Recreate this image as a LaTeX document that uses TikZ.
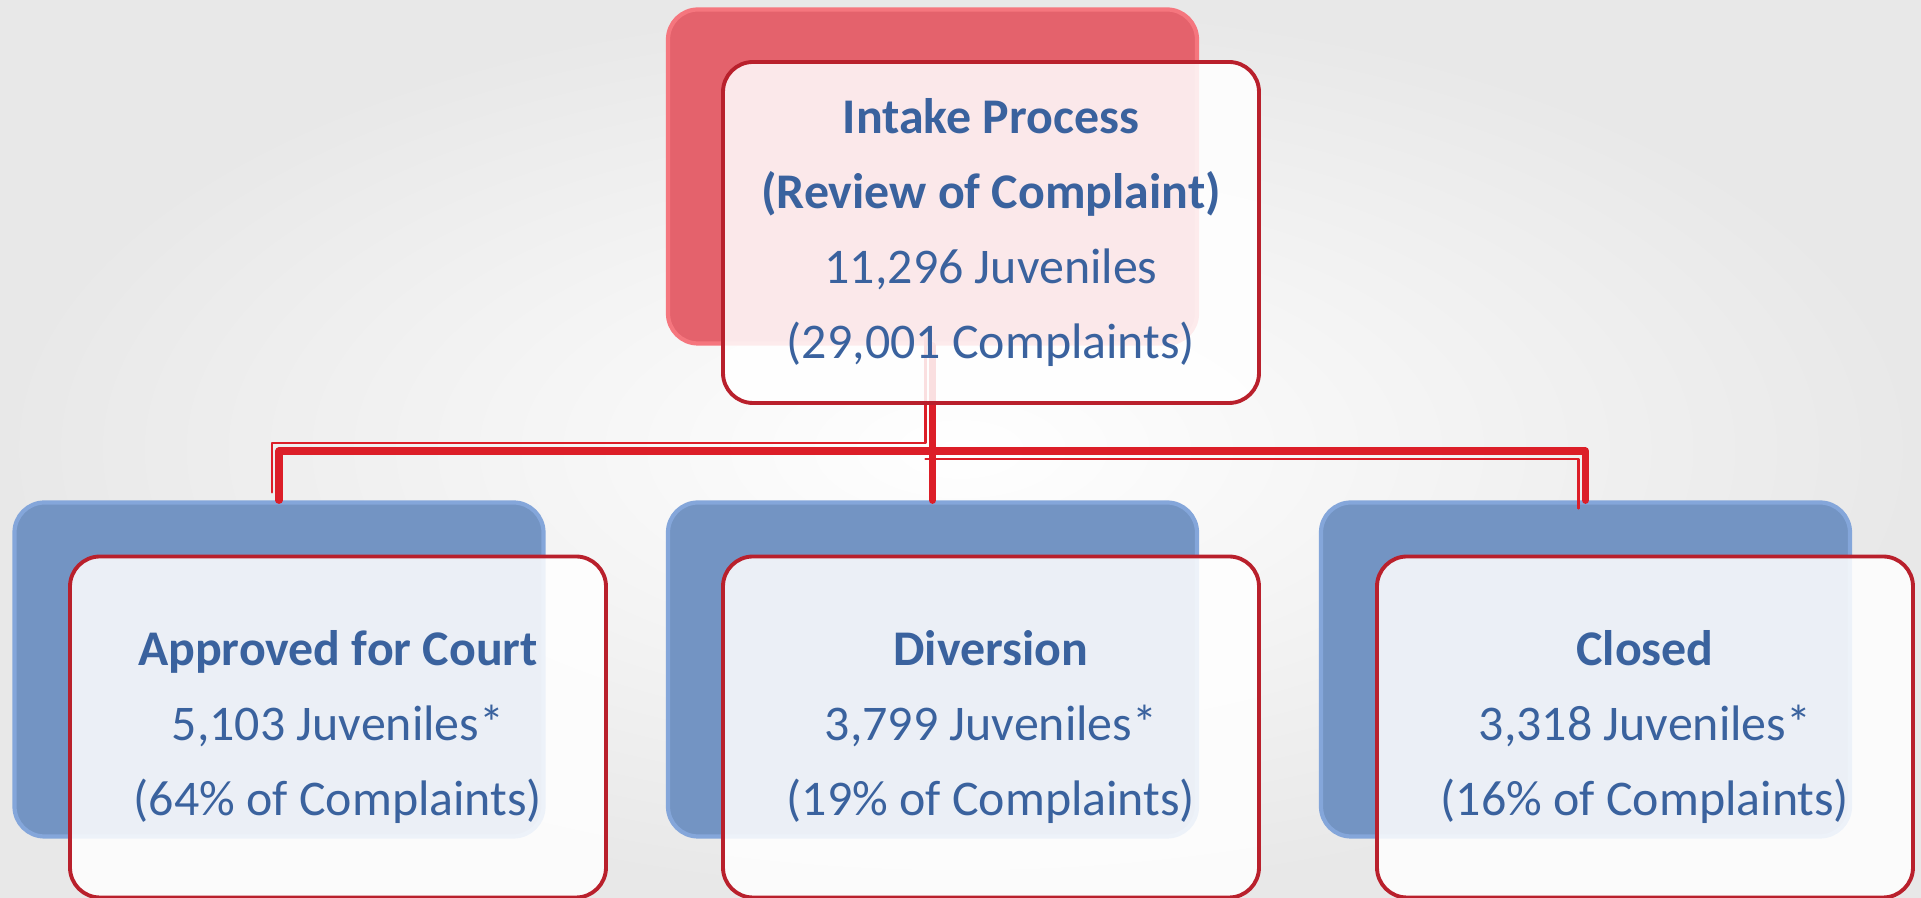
\documentclass[tikz,border=0pt]{standalone}
\usepackage{fontspec}
\setmainfont{Carlito}
\usetikzlibrary{positioning}
\definecolor{textblue}{RGB}{58,98,158}
\definecolor{redback}{RGB}{228,98,108}
\definecolor{redrim}{RGB}{245,118,126}
\definecolor{blueback}{RGB}{115,148,195}
\definecolor{bluerim}{RGB}{132,166,218}
\definecolor{frameline}{RGB}{185,32,44}
\definecolor{linkred}{RGB}{220,30,40}

\begin{document}
\begin{tikzpicture}[x=1cm,y=1cm]
\tikzset{
  backnode/.style={rectangle,rounded corners=0.3cm,inner sep=0pt,minimum width=5.29cm,minimum height=3.34cm,line width=1.2pt},
  rednode/.style={backnode,fill=redback,draw=redrim},
  bluenode/.style={backnode,fill=blueback,draw=bluerim},
  frontnode/.style={rectangle,rounded corners=0.3cm,inner sep=0pt,minimum width=5.36cm,minimum height=3.41cm,
    fill=white,fill opacity=0.86,text opacity=1,draw=frameline,draw opacity=1,line width=1.1pt,
    align=center,text=textblue,font=\fontsize{14.2}{21.4}\selectfont},
  linkedge/.style={draw=linkred,line width=2pt,line cap=round,line join=round},
  thinedge/.style={draw=linkred,line width=0.7pt,line cap=round,line join=round}
}
% background
\shade[inner color=white,outer color=black!9] (0,0) rectangle (19.21,8.98);
\useasboundingbox (0,0) rectangle (19.21,8.98);

\node[rednode] (n_intakeback) at (9.325,7.215) {};
\node[bluenode] (n_courtback) at (2.79,2.285) {};
\node[bluenode] (n_diversionback) at (9.325,2.285) {};
\node[bluenode] (n_closedback) at (15.855,2.285) {};

\coordinate (c_split) at (9.325,4.47);
\draw[linkedge] (n_intakeback.south) -- (c_split);
\draw[linkedge] (c_split) -| (n_courtback.north);
\draw[linkedge] (c_split) -- (n_diversionback.north);
\draw[linkedge] (c_split) -| (n_closedback.north);
\draw[thinedge,transform canvas={shift={(-0.07,0.08)}}] (n_intakeback.south) -- (c_split) -| (n_courtback.north);
\draw[thinedge,transform canvas={shift={(-0.07,-0.08)}}] (c_split) -| (n_closedback.north);

\node[frontnode] (n_intake) at (9.91,6.655) {\textbf{Intake Process}\\\textbf{(Review of Complaint)}\\11,296 Juveniles\\(29,001 Complaints)};
\node[frontnode] (n_court) at (3.38,1.71) {\textbf{Approved for Court}\\5,103 Juveniles*\\(64\% of Complaints)};
\node[frontnode] (n_diversion) at (9.91,1.71) {\textbf{Diversion}\\3,799 Juveniles*\\(19\% of Complaints)};
\node[frontnode] (n_closed) at (16.45,1.71) {\textbf{Closed}\\3,318 Juveniles*\\(16\% of Complaints)};
\end{tikzpicture}
\end{document}
